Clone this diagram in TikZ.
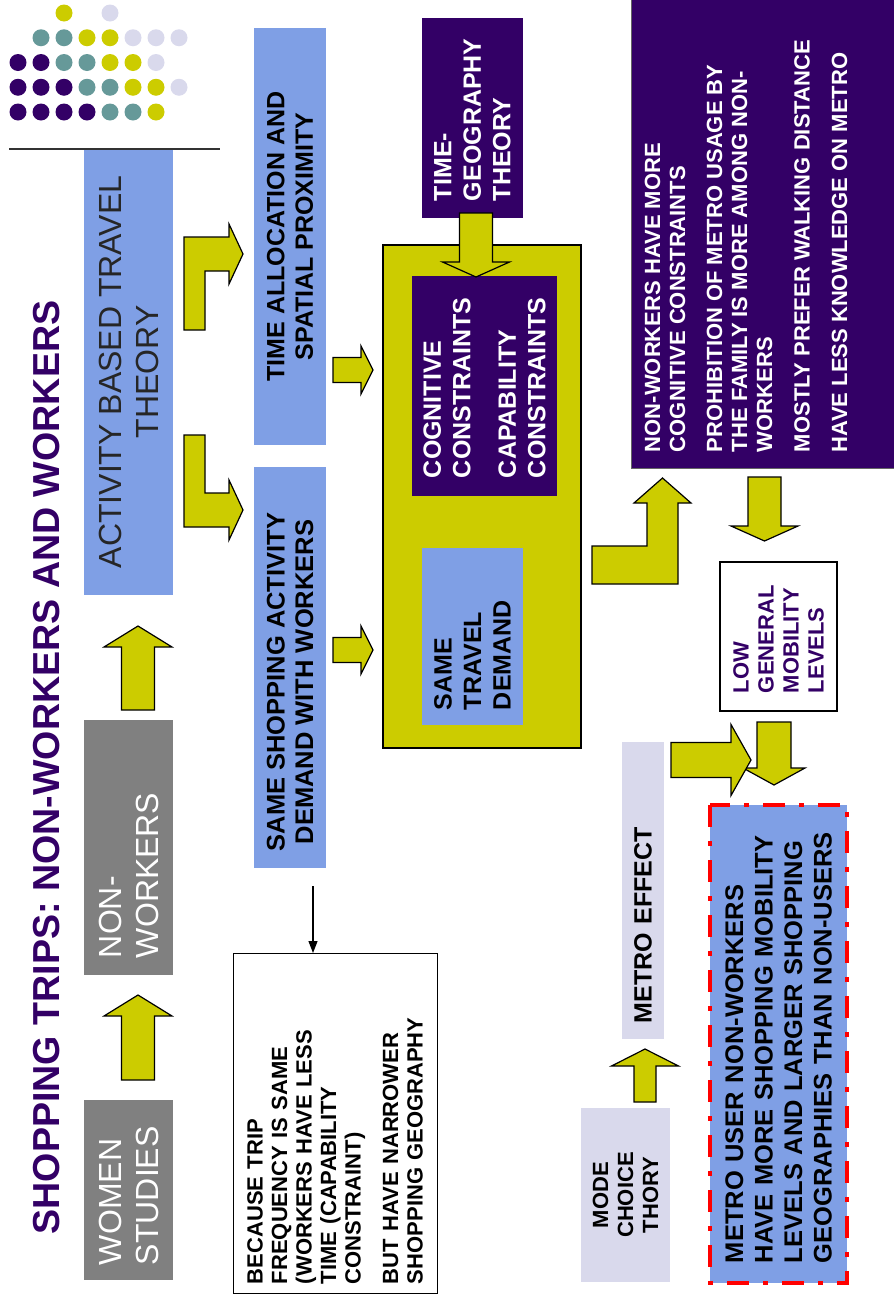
\documentclass[tikz,border=0pt]{standalone}
\usepackage{fontspec}
\setmainfont{Liberation Sans}
\usetikzlibrary{arrows.meta,calc}

\definecolor{slidepurple}{HTML}{330066}
\definecolor{slideteal}{HTML}{669999}
\definecolor{slideyellow}{HTML}{CCCC00}
\definecolor{slidelav}{HTML}{D9D9EC}
\definecolor{slideblue}{HTML}{7F9FE5}
\definecolor{slidegrey}{HTML}{808080}
\colorlet{dot-p}{slidepurple}
\colorlet{dot-t}{slideteal}
\colorlet{dot-y}{slideyellow}
\colorlet{dot-l}{slidelav}

\tikzset{
  slide-box/.style={rotate=90, inner sep=0pt, outer sep=0pt},
  grey-card/.style={slide-box, fill=slidegrey, text=white, font=\fontsize{32}{37}\selectfont},
  blue-card/.style={slide-box, fill=slideblue, text=black, font=\bfseries\fontsize{25}{29.5}\selectfont},
  purple-card/.style={slide-box, fill=slidepurple, text=white, font=\bfseries\fontsize{25}{29.5}\selectfont},
  lav-card/.style={slide-box, fill=slidelav, text=black, font=\bfseries\fontsize{25}{29.5}\selectfont},
  note-card/.style={slide-box, draw=black, fill=white, line width=1pt, font=\bfseries\fontsize{22}{24.5}\selectfont},
  fat-arrow/.style={fill=slideyellow, draw=black, line width=1.2pt, line join=miter}
}

% block arrow: tail x, tail y, angle, length, shaft, head width, head length
\newcommand\fatarrow[7]{%
  \draw[fat-arrow, shift={(#1,#2)}, rotate=#3]
    (0,-#5/2) -- ({#4-#7},-#5/2) -- ({#4-#7},-#6/2) -- (#4,0)
    -- ({#4-#7},#6/2) -- ({#4-#7},#5/2) -- (0,#5/2) -- cycle;}

\begin{document}
\begin{tikzpicture}[x=1pt, y=-1pt, >={Triangle[length=12pt,width=9pt]}]
  \useasboundingbox (0,0) rectangle (894,1296);

  % dot cluster
  \foreach \cols [count=\j from 0] in {{n,n,y,n,l},{n,t,t,y,y,l,l,l},{p,p,t,t,y,y,l},{p,p,p,t,t,y,y,l},{p,p,p,p,t,t,y}} {
    \foreach \c [count=\i from 0] in \cols {
      \if\c n\else \fill[fill=dot-\c] (18+23*\i,13+24.75*\j) circle[radius=8.5]; \fi
    }
  }

  \node[rotate=90, inner sep=0pt, text=slidepurple, font=\bfseries\fontsize{37.6}{40}\selectfont] (title) at (46.5,767.5) {SHOPPING TRIPS: NON-WORKERS AND WORKERS};

  % left column
  \node[grey-card, fill=slideblue, text=black!85, minimum width=446pt, minimum height=89pt, align=center] (activity) at (128.5,372) {ACTIVITY BASED TRAVEL\\THEORY};
  \node[grey-card, minimum width=255pt, minimum height=89pt, text width=221pt, inner xsep=17pt, align=left] (nonworkers) at (128.5,847.5) {NON-\\WORKERS};
  \node[grey-card, minimum width=180pt, minimum height=89pt, text width=150pt, inner xsep=15pt, align=left] (women) at (128.5,1190) {WOMEN\\STUDIES};
  \draw[line width=1.3pt, black!80] (9,149) -- (220,149);

  \fatarrow{138}{1080}{90}{85}{33}{68}{21}
  \fatarrow{138}{710}{90}{84}{33}{68}{21}

  \draw[fat-arrow] (184,330) -- (184,237) -- (229,237) -- (229,224) -- (243,254) -- (229,284) -- (229,271) -- (205,271) -- (205,330) -- cycle;
  \draw[fat-arrow] (184,435) -- (205,435) -- (205,493) -- (229,493) -- (229,480) -- (243,510) -- (229,540) -- (229,527) -- (184,527) -- cycle;

  % second column
  \node[blue-card, font=\bfseries\fontsize{25}{28.5}\selectfont, minimum width=417pt, minimum height=72pt, align=center] (timealloc) at (290,236.5) {TIME ALLOCATION AND\\SPATIAL PROXIMITY};
  \node[blue-card, minimum width=401pt, minimum height=72pt] (shopping) at (290,667.5) {};
  \node[slide-box, font=\bfseries\fontsize{25.5}{28.5}\selectfont, align=center] (shoppingtext) at (290,682) {SAME SHOPPING ACTIVITY\\DEMAND WITH WORKERS};
  \node[note-card, minimum width=340pt, minimum height=204pt, text width=322pt, inner xsep=9pt, align=left] (because) at (335,1123) {BECAUSE TRIP\\FREQUENCY IS SAME\\(WORKERS HAVE LESS\\TIME (CAPABILITY\\CONSTRAINT)\\[13pt]BUT HAVE NARROWER\\SHOPPING GEOGRAPHY};
  \coordinate (notetail) at ($(shopping.west)+(23,18)$);
  \draw[->, line width=1.2pt] (notetail) -- (notetail |- because.east);

  \fatarrow{333}{370}{0}{40}{25}{48}{12}
  \fatarrow{333}{650}{0}{40}{25}{48}{12}

  % constraint block
  \node[slide-box, draw=black, line width=1.2pt, fill=slideyellow, minimum width=503pt, minimum height=198pt] (core) at (482,496.5) {};
  \node[purple-card, minimum width=220pt, minimum height=145pt, text width=184pt, inner xsep=18pt, align=left] (constraints) at (484.5,386) {COGNITIVE\\CONSTRAINTS\\[16pt]CAPABILITY\\CONSTRAINTS};
  \node[blue-card, minimum width=177pt, minimum height=101pt, text width=147pt, inner xsep=15pt, align=left] (demand) at (472.5,636.5) {SAME\\TRAVEL\\DEMAND};
  \node[purple-card, minimum width=200pt, minimum height=101pt, text width=166pt, inner xsep=17pt, align=left] (timegeo) at (472.5,118) {TIME-\\GEOGRAPHY\\THEORY};
  \fatarrow{476}{213}{-90}{64}{33}{67}{15}

  % right column
  \node[slide-box, fill=slidepurple, draw=black!60, line width=1pt, minimum width=480pt, minimum height=280pt] (factsbg) at (771,228) {};
  \node[slide-box, text=white, font=\bfseries\fontsize{22}{25}\selectfont, align=left, anchor=west] (facts) at (746,452) {NON-WORKERS HAVE MORE\\COGNITIVE CONSTRAINTS\\[12pt]PROHIBITION OF METRO USAGE BY\\THE FAMILY IS MORE AMONG NON-\\WORKERS\\[12.5pt]MOSTLY PREFER WALKING DISTANCE\\[12.5pt]HAVE LESS KNOWLEDGE ON METRO};
  \draw[fat-arrow] (592,584) -- (592,546) -- (647,546) -- (647,503) -- (634,503) -- (662.5,478) -- (691,503) -- (678,503) -- (678,584) -- cycle;
  \fatarrow{764.5}{477}{-90}{64}{33}{67}{15}

  \node[slide-box, draw=black, line width=2.2pt, fill=white, text=slidepurple, font=\bfseries\fontsize{22}{25}\selectfont, minimum width=149pt, minimum height=117pt, text width=113pt, inner xsep=18pt, align=left] (low) at (778.5,636.5) {LOW\\GENERAL\\MOBILITY\\LEVELS};
  \fatarrow{774}{722}{-90}{63}{34}{62}{17}

  \node[lav-card, minimum width=297pt, minimum height=42pt, text width=265pt, inner xsep=16pt, align=left] (metro) at (643,890.5) {METRO EFFECT};
  \node[lav-card, font=\bfseries\fontsize{22}{25}\selectfont, minimum width=174pt, minimum height=89pt, align=center] (mode) at (625.5,1195) {MODE\\CHOICE\\THORY};
  \fatarrow{645}{1102}{90}{53}{22}{67}{17}
  \fatarrow{671}{760}{0}{80}{35}{71}{20}

  \node[blue-card, draw=red, line width=4.5pt, dash pattern=on 22pt off 14pt on 5pt off 14pt, font=\bfseries\fontsize{25.5}{29.5}\selectfont, minimum width=478pt, minimum height=137pt, text width=438pt, inner xsep=20pt, align=left] (result) at (778.5,1044) {METRO USER NON-WORKERS\\HAVE MORE SHOPPING MOBILITY\\LEVELS AND LARGER SHOPPING\\GEOGRAPHIES THAN NON-USERS};
\end{tikzpicture}
\end{document}
